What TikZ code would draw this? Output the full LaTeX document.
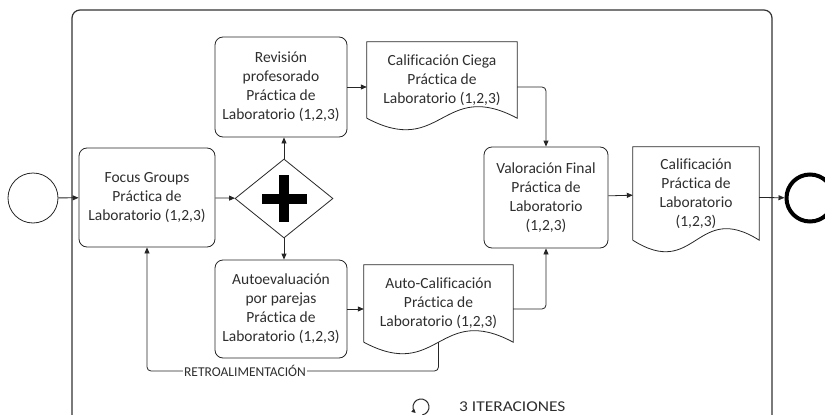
\documentclass[tikz,border=0pt]{standalone}
\usepackage{fontspec}
\setmainfont{Carlito}[Ligatures=NoCommon]
\usetikzlibrary{arrows.meta,shapes.geometric,calc}
\begin{document}
\begin{tikzpicture}[x=1pt,y=-1pt,
  every node/.style={font=\fontsize{15.5}{19}\selectfont, text=black!82, align=center, inner sep=0pt},
  task/.style={draw=black!85, line width=0.8pt, rounded corners=8pt},
  docbox/.style={},
  ln/.style={draw=black!85, line width=0.8pt},
  arr/.style={ln, -{Triangle[length=6pt,width=5pt]}},
  ]
\clip (0,0) rectangle (825,415);
\useasboundingbox (0,0) rectangle (825,415);
% container
\draw[line width=1.2pt, black!80, rounded corners=8pt] (72,430) -- (72,10) -- (772,10) -- (772,430);
% nodes
\node[circle, draw=black!85, line width=0.8pt, minimum size=50pt] (start) at (33,198) {};
\node[task, minimum width=136pt, minimum height=99pt] (focus) at (147,197.5) {Focus Groups\\Práctica de\\Laboratorio (1,2,3)};
\node[diamond, draw=black!85, line width=0.8pt, minimum width=98pt, minimum height=79pt, aspect=1.24] (gw) at (284,198.5) {};
\fill[black] ($(gw.center)+(-5,-23.5)$) rectangle ($(gw.center)+(5,23.5)$);
\fill[black] ($(gw.center)+(-22.5,-5)$) rectangle ($(gw.center)+(22.5,5)$);
\node[task, minimum width=132pt, minimum height=100pt] (rev) at (281,87) {Revisión\\profesorado\\Práctica de\\Laboratorio (1,2,3)};
\node[task, minimum width=132pt, minimum height=98pt] (autoev) at (281,309) {Autoevaluación\\por parejas\\Práctica de\\Laboratorio (1,2,3)};
\node[docbox, minimum width=150pt, minimum height=76pt] (cc) at (442,80) {Calificación Ciega\\Práctica de\\Laboratorio (1,2,3)};
\node[task, minimum width=124pt, minimum height=101pt] (val) at (546,197.5) {Valoración Final\\Práctica de\\Laboratorio\\(1,2,3)};
\node[docbox, minimum width=126pt, minimum height=93pt] (fin) at (696,193.5) {Calificación\\Práctica de\\Laboratorio\\(1,2,3)};
\node[docbox, minimum width=149pt, minimum height=77pt] (ac) at (438.5,303.5) {Auto-Calificación\\Práctica de\\Laboratorio (1,2,3)};
\node[circle, draw=black, line width=4pt, minimum size=47pt] (end) at (810,198) {};
% document outlines
\foreach \n in {cc,fin,ac}
  \draw[ln] (\n.south west) -- (\n.north west) -- (\n.north east) -- (\n.south east)
    .. controls ($(\n.south)+(0,-40)$) and ($(\n.south)+(0,40)$) .. (\n.south west);
% connectors
\draw[arr] (start) -- (focus);
\draw[arr] (focus) -- (gw);
\draw[arr] (gw.north) -- (gw.north |- rev.south);
\draw[arr] (gw.south) -- (gw.south |- autoev.north);
\draw[arr] (rev.east) -- (rev.east -| cc.west);
\draw[arr] (autoev.east) -- (autoev.east -| ac.west);
\draw[arr, rounded corners=4pt] (cc.east |- rev.east) -| (val.north);
\draw[arr, rounded corners=4pt] (ac.east |- autoev.east) -| (val.south);
\draw[arr] (val) -- (fin);
\draw[arr] (fin.east |- val.east) -- (end);
% feedback
\node[font=\fontsize{13.5}{16}\selectfont, fill=white, inner xsep=1pt, inner ysep=2pt] (retro) at (245,371) {RETROALIMENTACIÓN};
\draw[ln, rounded corners=4pt] (ac.south) |- (retro.east);
\draw[arr, rounded corners=4pt] (retro.west) -| (focus.south);
% loop marker
\coordinate (loop) at (421,407);
\draw[ln, line width=1pt, -{Triangle[length=4pt,width=4pt]}] ($(loop)+(80:8)$) arc[start angle=80, end angle=-228, radius=8];
\node[anchor=west, font=\fontsize{15}{17}\selectfont] (iter) at (459,407) {\scalebox{1.16}[1]{3 ITERACIONES}};
\end{tikzpicture}
\end{document}
